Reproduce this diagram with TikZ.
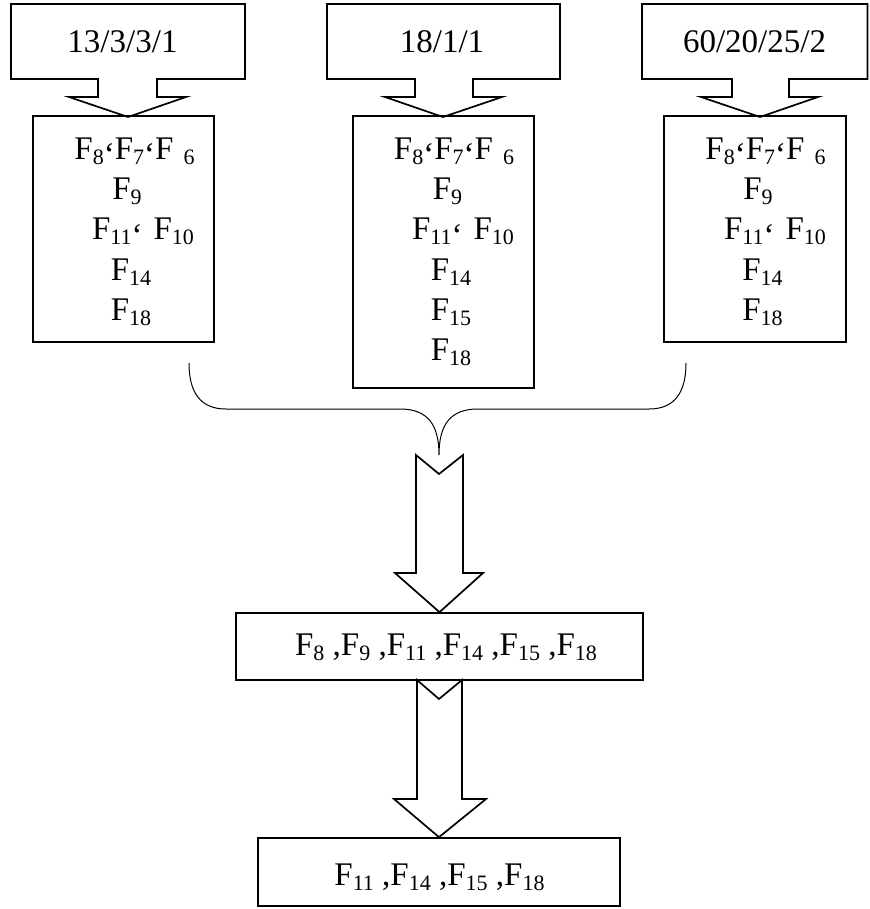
\documentclass[tikz,border=0pt]{standalone}
\usepackage{fontspec}
\setmainfont{Liberation Serif}
\newcommand{\subx}[1]{\raisebox{-5pt}{\fontsize{22}{22}\selectfont #1}}
\newcommand{\qcm}{\raisebox{-6pt}{‘}}
\begin{document}
\begin{tikzpicture}[x=1pt,y=-1pt,
  boxst/.style={draw,line width=1.7pt,inner sep=0pt},
  shp/.style={draw,line width=1.7pt,line join=miter},
  brc/.style={draw,line width=1pt},
  txt/.style={font=\fontsize{33}{33}\selectfont,inner sep=0pt,anchor=base}]
\useasboundingbox (0,0) rectangle (869,909);
% callouts
\draw[shp] (11,4) -- (245,4) -- (245,79) -- (157,79) -- (157,97) -- (186,97) -- (128,117) -- (69,97) -- (98,97) -- (98,79) -- (11,79) -- cycle;
\draw[shp] (327,4) -- (560,4) -- (560,79) -- (473,79) -- (473,97) -- (502,97) -- (443,117) -- (385,97) -- (415,97) -- (415,79) -- (327,79) -- cycle;
\draw[shp] (642,4) -- (867.5,4) -- (867.5,79) -- (789,79) -- (789,97) -- (818,97) -- (760,117) -- (701,97) -- (732,97) -- (732,79) -- (642,79) -- cycle;
\node[txt] (c1) at (122.5,53) {13/3/3/1};
\node[txt] (c2) at (442,53) {18/1/1};
\node[txt] (c3) at (754.5,53) {60/20/25/2};
% boxes
\node[boxst,minimum width=181pt,minimum height=226pt] (b1) at (123.5,229) {};
\node[boxst,minimum width=181pt,minimum height=272pt] (b2) at (443.5,252) {};
\node[boxst,minimum width=182pt,minimum height=226pt] (b3) at (755,229) {};
\node[boxst,minimum width=407pt,minimum height=67pt] (b4) at (439.5,646.5) {};
\node[boxst,minimum width=362pt,minimum height=68pt] (b5) at (439,872) {};
% box 1 text
\node[txt] (t11) at (134.5,160) {F\subx{8}\qcm F\subx{7}\qcm F\hspace{10pt}\subx{6}};
\node[txt] (t12) at (127,200) {F\subx{9}};
\node[txt] (t13) at (143,240) {F\subx{11}\qcm\hspace{11pt}F\subx{10}};
\node[txt] (t14) at (131,280) {F\subx{14}};
\node[txt] (t15) at (131,320) {F\subx{18}};
% box 2 text
\node[txt] (t21) at (454,160) {F\subx{8}\qcm F\subx{7}\qcm F\hspace{10pt}\subx{6}};
\node[txt] (t22) at (447.5,200) {F\subx{9}};
\node[txt] (t23) at (463,240) {F\subx{11}\qcm\hspace{11pt}F\subx{10}};
\node[txt] (t24) at (451,280) {F\subx{14}};
\node[txt] (t25) at (451,320) {F\subx{15}};
\node[txt] (t26) at (451,360) {F\subx{18}};
% box 3 text
\node[txt] (t31) at (765.5,160) {F\subx{8}\qcm F\subx{7}\qcm F\hspace{10pt}\subx{6}};
\node[txt] (t32) at (758,200) {F\subx{9}};
\node[txt] (t33) at (775,240) {F\subx{11}\qcm\hspace{11pt}F\subx{10}};
\node[txt] (t34) at (762.5,280) {F\subx{14}};
\node[txt] (t35) at (762.5,320) {F\subx{18}};
% lower texts
\node[txt] (t4) at (446,655) {F\subx{8} ,F\subx{9} ,F\subx{11} ,F\subx{14} ,F\subx{15} ,F\subx{18}};
\node[txt] (t5) at (439.5,885) {F\subx{11} ,F\subx{14} ,F\subx{15} ,F\subx{18}};
% brace
\coordinate (bl) at (189,363);
\coordinate (br) at (686,363);
\coordinate (bt) at (439,455);
\draw[brc] (bl) .. controls (189,392) and (200,409) .. (226,409) -- (400,409)
  .. controls (428,409) and (439,425) .. (bt)
  .. controls (439,425) and (450,409) .. (478,409) -- (649,409)
  .. controls (675,409) and (686,392) .. (br);
% block arrows
\draw[shp] (b4.north) -- (395,573) -- (416,573) -- (416,455) -- (439,474) -- (463,455) -- (463,573) -- (483,573) -- cycle;
\draw[shp] (b5.north) -- (394,799) -- (417,799) -- (417,680) -- (439,699) -- (462,680) -- (462,799) -- (486,799) -- cycle;
\end{tikzpicture}
\end{document}
